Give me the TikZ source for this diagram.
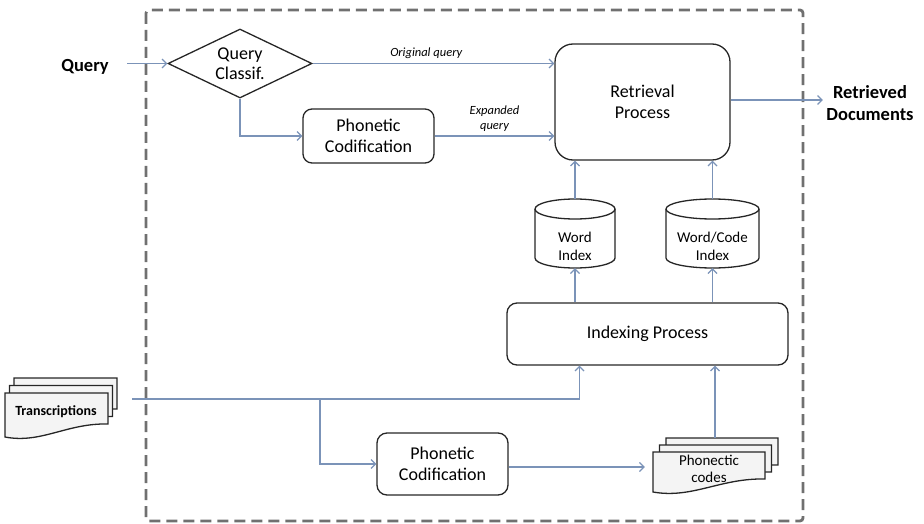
\documentclass[tikz,border=0pt]{standalone}
\usepackage{fontspec}
\setmainfont{Carlito}
\usetikzlibrary{arrows.meta,shapes.geometric,calc}

\definecolor{flowblue}{HTML}{7B93B8}
\definecolor{framegray}{HTML}{707070}
\definecolor{inkdark}{HTML}{262626}
\definecolor{docfill}{HTML}{F4F4F4}

\newcommand\mainsz{\fontsize{18}{20.5}\selectfont}
\newcommand\smallsz{\fontsize{15}{17.5}\selectfont}
\newcommand\notesz{\fontsize{12.5}{15}\selectfont}

% database cylinder: name, cx, cy, width, height, text
\newcommand\dbcyl[6]{%
  \path[shapeline,fill=white] ({#2-#4/2},{#3+#5/2-10}) -- ({#2-#4/2},{#3-#5/2+10})
    arc[start angle=180,end angle=360,x radius=#4/2,y radius=10]
    -- ({#2+#4/2},{#3+#5/2-10})
    arc[start angle=0,end angle=180,x radius=#4/2,y radius=10] -- cycle;
  \draw[shapeline] ({#2-#4/2},{#3+#5/2-10})
    arc[start angle=180,end angle=360,x radius=#4/2,y radius=10];
  \node[minimum width=#4pt,minimum height=#5pt,inner sep=0pt] (#1) at (#2,#3) {};
  \node[font=\smallsz,align=center] (#1-text) at (#2,{#3-13}) {#6};
}

% single document sheet with a wavy lower edge: left, top, width, height
\newcommand\docsheet[4]{%
  \draw[shapeline,fill=docfill] (#1,#2) -- ({#1+#3},#2) -- ({#1+#3},{#2-#4+13})
    .. controls ({#1+0.6*#3},{#2-#4+14}) and ({#1+0.35*#3},{#2-#4-7}) .. (#1,{#2-#4}) -- cycle;
}

\tikzset{
  shapeline/.style={draw=inkdark,line width=1.3pt},
  flow/.style={draw=flowblue,line width=1.3pt,-{Straight Barb[length=4.5pt,width=9pt,line width=1.2pt]}},
  plainflow/.style={draw=flowblue,line width=1.3pt},
  procbox/.style={shapeline,rectangle,rounded corners=10pt,align=center,font=\mainsz,inner sep=0pt},
  decision/.style={shapeline,diamond,aspect=2.09,minimum width=144pt,minimum height=69pt,inner sep=0pt,align=center,font=\mainsz},
  frame/.style={draw=framegray,line width=2.8pt,dash pattern=on 11pt off 6pt,rounded corners=3pt},
  note/.style={font=\notesz\itshape,align=center,inner sep=1pt},
  endlabel/.style={font=\fontsize{18.5}{21.5}\selectfont\bfseries,align=center}
}

\begin{document}
\begin{tikzpicture}[x=1pt,y=1pt]
  \useasboundingbox (0,0) rectangle (924,-524);

  % system boundary
  \draw[frame] (146,-10) rectangle (803,-521);

  % query side
  \node[endlabel] (query) at (85,-67) {Query};
  \node[decision] (qc) at (240,-63.5) {Query\\Classif.};
  \node[procbox,minimum width=131pt,minimum height=54pt,rounded corners=9pt] (ph1) at (368.5,-136) {Phonetic\\Codification};
  \node[procbox,minimum width=175pt,minimum height=116pt,rounded corners=18pt] (ret) at (642.5,-102) {Retrieval\\Process};
  \node[endlabel] (rd) at (870,-103) {Retrieved\\Documents};

  % indexes
  \dbcyl{wi}{575}{-233.5}{80}{69}{Word\\Index}
  \dbcyl{wc}{712.5}{-233.5}{93}{69}{Word/Code\\Index}

  % indexing side
  \node[procbox,minimum width=281pt,minimum height=62pt] (idx) at (647.5,-334) {Indexing Process};
  \node[procbox,minimum width=131pt,minimum height=62pt] (ph2) at (442.5,-464) {Phonetic\\Codification};

  % transcriptions stack
  \docsheet{14}{-378}{103}{44}
  \docsheet{9.5}{-385.5}{103}{44}
  \docsheet{5}{-393}{103}{44}
  \node[font=\fontsize{14}{16}\selectfont\bfseries] (trans) at (56,-412) {Transcriptions};

  % phonetic codes stack
  \docsheet{666}{-438}{112}{40}
  \docsheet{659.5}{-445}{112}{40}
  \docsheet{653}{-452}{112}{40}
  \node[font=\smallsz,align=center,minimum width=112pt] (pc) at (709,-469) {Phonectic\\codes};

  \coordinate (tr-out) at (132,-399);
  \coordinate (tr-split) at (320,-399);
  \coordinate (pc-top) at (715,-438);

  % connectors
  \draw[flow] ([xshift=15pt]query.east |- qc.west) -- (qc.west);
  \draw[flow] (qc.east) -- (qc.east -| ret.west)
    node[note,pos=0.47,above=3pt] (oq) {Original query};
  \draw[flow] (qc.south) |- (ph1.west);
  \draw[flow] (ph1.east) -- (ph1.east -| ret.west)
    node[note,midway,above=3pt] (eq) {Expanded\\query};
  \draw[flow] ([yshift=2pt]ret.east) -- ([yshift=2pt]ret.east -| rd.west);

  \draw[flow] (wi.north) -- (wi.north |- ret.south);
  \draw[flow] (wc.north) -- (wc.north |- ret.south);
  \draw[flow] (idx.north -| wi) -- (wi.south);
  \draw[flow] (idx.north -| wc) -- (wc.south);

  \draw[flow] (tr-out) -| ([xshift=-68pt]idx.south);
  \draw[flow] (tr-split) |- (ph2.west);
  \draw[flow] ([yshift=-3pt]ph2.east) -- ([yshift=-3pt,xshift=-8pt]ph2.east -| pc.west);
  \draw[flow] (pc-top) -- (pc-top |- idx.south);
\end{tikzpicture}
\end{document}
